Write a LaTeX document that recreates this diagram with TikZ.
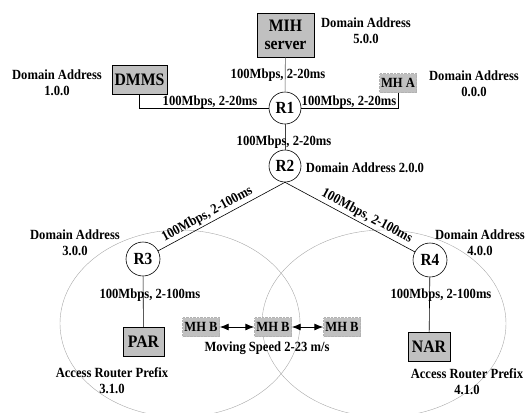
\documentclass[tikz,border=0pt]{standalone}
\usepackage{fontspec}
\setmainfont{Liberation Serif}[FakeStretch=0.9]
\usetikzlibrary{arrows.meta}
\definecolor{boxgray}{HTML}{C0C0C0}
\definecolor{cellgray}{HTML}{A8A8A8}
\begin{document}
\begin{tikzpicture}[x=1pt,y=-1pt,
  lbl/.style={font=\fontsize{14}{16}\selectfont\bfseries, inner sep=0pt, align=center},
  router/.style={circle, draw, fill=white, minimum size=32pt, inner sep=0pt, line width=0.6pt, font=\fontsize{17}{17}\selectfont\bfseries},
  srv/.style={draw, fill=boxgray, inner sep=0pt, line width=0.6pt, font=\fontsize{17.5}{20}\selectfont\bfseries, align=center},
  mh/.style={fill=boxgray, draw=gray!60, densely dotted, inner sep=0pt, minimum width=37pt, minimum height=19pt, font=\fontsize{14}{14}\selectfont\bfseries},
  link/.style={line width=0.6pt},
  cell/.style={draw=cellgray, line width=0.4pt},
  dbl/.style={line width=0.9pt, {Latex[length=9pt,width=7pt]}-{Latex[length=9pt,width=7pt]}}]

\useasboundingbox (0,0) rectangle (531,413);
\clip (0,0) rectangle (531,413);

% coverage areas
\draw[cell] (180,323.5) ellipse [x radius=120pt, y radius=93.5pt];
\draw[cell] (384,323.5) ellipse [x radius=122pt, y radius=93.5pt];

% nodes
\node[srv, minimum width=57pt, minimum height=44pt] (mih) at (285.5,35) {MIH\\[-2pt]server};
\node[srv, minimum width=55pt, minimum height=29pt] (dmms) at (139.5,79.5) {DMMS};
\node[mh] (mha) at (398,83) {MH A};
\node[router] (r1) at (285,108) {R1};
\node[router] (r2) at (285,166) {R2};
\node[router, minimum size=34pt] (r3) at (143,259) {R3};
\node[router, minimum size=34pt] (r4) at (430,260) {R4};
\node[srv, minimum width=41pt, minimum height=29pt] (par) at (143.5,342) {PAR};
\node[srv, minimum width=42pt, minimum height=29pt] (nar) at (429,347) {NAR};
\node[mh] (mhb1) at (201,327) {MH B};
\node[mh] (mhb2) at (273,327) {MH B};
\node[mh] (mhb3) at (342,327) {MH B};

% links
\draw[link] (dmms.south) |- (r1);
\draw[link] (mha.south) |- (r1);
\draw[link, black!65] (mih) -- (r1);
\draw[link, black!75] (r1) -- (r2);
\draw[link] (r2.south) -- node[lbl, sloped, above=2pt, pos=0.58] (l5) {100Mbps, 2-100ms} (r3);
\draw[link] (r2.south) -- node[lbl, sloped, above=2pt, pos=0.6] (l6) {100Mbps, 2-100ms} (r4);
\draw[link] (r3) -- (par);
\draw[link] (r4) -- (nar);
\draw[dbl] (mhb1) -- (mhb2);
\draw[dbl] (mhb2) -- (mhb3);

% labels
\node[lbl] (l1) at (278,75) {100Mbps, 2-20ms};
\node[lbl] (l2) at (210,102) {100Mbps, 2-20ms};
\node[lbl] (l3) at (349,102) {100Mbps, 2-20ms};
\node[lbl] (l4) at (284,142) {100Mbps, 2-20ms};
\node[lbl] (l7) at (150,295) {100Mbps, 2-100ms};
\node[lbl] (l8) at (441,295) {100Mbps, 2-100ms};
\node[lbl] (da5) at (366,31) {Domain Address\\5.0.0};
\node[lbl] (da1) at (57,83) {Domain Address\\1.0.0};
\node[lbl] (da0) at (474,84) {Domain Address\\0.0.0};
\node[lbl] (da2) at (365,168) {Domain Address 2.0.0};
\node[lbl] (da3) at (75,243) {Domain Address\\3.0.0};
\node[lbl] (da4) at (480,243) {Domain Address\\4.0.0};
\node[lbl] (ar3) at (112,381) {Access Router Prefix\\3.1.0};
\node[lbl] (ar4) at (467,382) {Access Router Prefix\\4.1.0};
\node[lbl] (ms) at (267,348) {Moving Speed 2-23 m/s};
\end{tikzpicture}
\end{document}
